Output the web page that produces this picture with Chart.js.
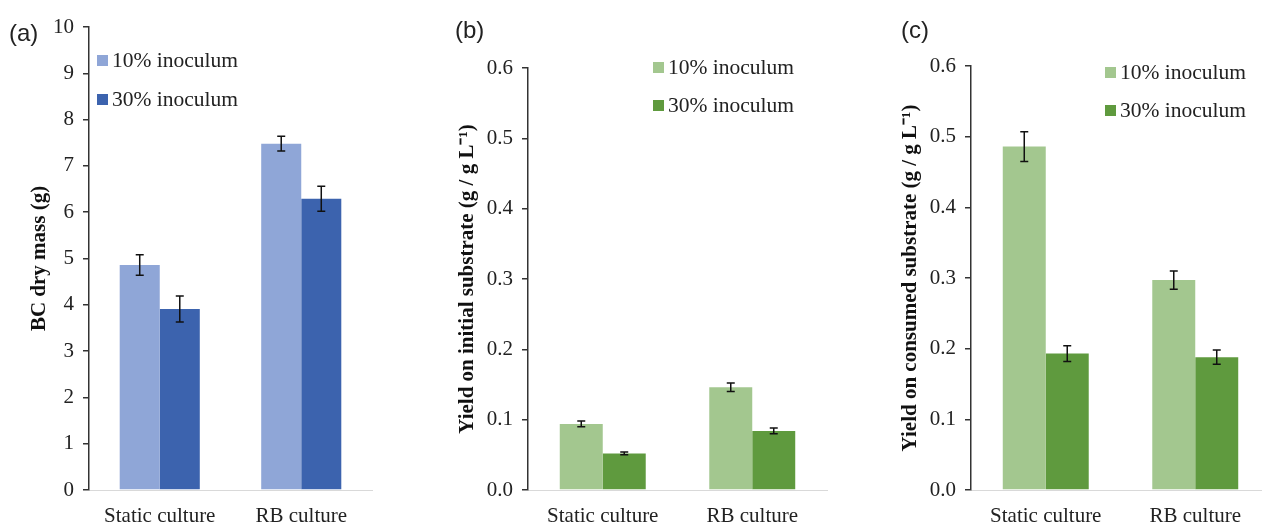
<!DOCTYPE html>
<html lang="en">
<head>
    <meta charset="UTF-8">
    <title>BC yield</title>
    <style>
        body { margin: 0; background: #fff; width: 1262px; height: 524px; overflow: hidden; position: relative; }
        canvas { position: absolute; top: 0; }
        .tag { position: absolute; font-family: "Liberation Sans", Arial, sans-serif; font-size: 24px; color: #222; }
    </style>
</head>
<body>
    <canvas id="chartA" width="420" height="524" style="left:0"></canvas>
    <canvas id="chartB" width="422" height="524" style="left:420px"></canvas>
    <canvas id="chartC" width="440" height="524" style="left:842px"></canvas>
    <div class="tag" style="left:9px;top:19px">(a)</div>
    <div class="tag" style="left:455px;top:16px">(b)</div>
    <div class="tag" style="left:901px;top:16px">(c)</div>

    <script src="https://cdn.jsdelivr.net/npm/chart.js"></script>
    <script>
        const categories = ['Static culture', 'RB culture'];
        const seriesLabels = ['10% inoculum', '30% inoculum'];

        // (a) BC dry mass (g)
        const mass10 = [4.86, 7.48];
        const mass10Err = [0.22, 0.16];
        const mass30 = [3.91, 6.29];
        const mass30Err = [0.28, 0.27];

        // (b) yield on initial substrate
        const yieldInit10 = [0.094, 0.146];
        const yieldInit10Err = [0.004, 0.006];
        const yieldInit30 = [0.052, 0.084];
        const yieldInit30Err = [0.002, 0.004];

        // (c) yield on consumed substrate
        const yieldCons10 = [0.486, 0.297];
        const yieldCons10Err = [0.021, 0.013];
        const yieldCons30 = [0.193, 0.188];
        const yieldCons30Err = [0.011, 0.010];

        const serif = '"Liberation Serif", "Times New Roman", serif';

        // error bars drawn from each dataset's err array
        const errorBars = {
            id: 'errorBars',
            afterDatasetsDraw(chart) {
                const ctx = chart.ctx;
                const y = chart.scales.y;
                ctx.save();
                ctx.strokeStyle = '#111';
                ctx.lineWidth = 1.5;
                chart.data.datasets.forEach((ds, i) => {
                    chart.getDatasetMeta(i).data.forEach((bar, j) => {
                        const v = ds.data[j], e = ds.err[j];
                        const top = y.getPixelForValue(v + e);
                        const bot = y.getPixelForValue(v - e);
                        ctx.beginPath();
                        ctx.moveTo(bar.x, top); ctx.lineTo(bar.x, bot);
                        ctx.moveTo(bar.x - 4, top); ctx.lineTo(bar.x + 4, top);
                        ctx.moveTo(bar.x - 4, bot); ctx.lineTo(bar.x + 4, bot);
                        ctx.stroke();
                    });
                });
                ctx.restore();
            }
        };

        // legend with small squares, placed inside the plot
        const boxLegend = {
            id: 'boxLegend',
            afterDraw(chart, args, opts) {
                const ctx = chart.ctx;
                ctx.save();
                ctx.font = '21.5px ' + serif;
                ctx.textBaseline = 'middle';
                chart.data.datasets.forEach((ds, i) => {
                    const cy = opts.y + i * opts.gap;
                    ctx.fillStyle = ds.backgroundColor;
                    ctx.fillRect(opts.x, cy - 5, 11, 11);
                    ctx.fillStyle = '#222';
                    ctx.fillText(ds.label, opts.x + 15, cy + 1);
                });
                ctx.restore();
            }
        };

        function makePanel(id, cfg) {
            return new Chart(document.getElementById(id), {
                type: 'bar',
                data: {
                    labels: categories,
                    datasets: [
                        { label: seriesLabels[0], data: cfg.s1, err: cfg.e1, backgroundColor: cfg.colors[0] },
                        { label: seriesLabels[1], data: cfg.s2, err: cfg.e2, backgroundColor: cfg.colors[1] }
                    ]
                },
                options: {
                    responsive: false,
                    animation: false,
                    categoryPercentage: cfg.catPct,
                    barPercentage: 1.0,
                    layout: { padding: { top: cfg.top, right: cfg.right, bottom: 0, left: 0 } },
                    plugins: {
                        legend: { display: false },
                        tooltip: { enabled: false },
                        boxLegend: cfg.legend
                    },
                    scales: {
                        x: {
                            grid: { display: false },
                            border: { color: '#d9d9d9', width: 1 },
                            ticks: { color: '#222', padding: 6, font: { family: serif, size: 21 } },
                            afterFit(scale) { scale.height = 34; }
                        },
                        y: {
                            min: 0, max: cfg.max,
                            grid: { drawOnChartArea: false, drawTicks: true, tickLength: 6, color: '#333', lineWidth: 1.5 },
                            border: { color: '#333', width: 1.5 },
                            ticks: {
                                stepSize: cfg.step, color: '#222', padding: 9,
                                font: { family: serif, size: 21 },
                                callback: v => v.toFixed(cfg.dec)
                            },
                            title: {
                                display: true, text: cfg.title, color: '#111',
                                font: { family: serif, size: 21, weight: 'bold' },
                                padding: { top: cfg.titlePad, bottom: 0 }
                            },
                            afterFit(scale) { scale.width = cfg.axisW; }
                        }
                    }
                },
                plugins: [errorBars, boxLegend]
            });
        }

        const blues = ['#8fa6d7', '#3c63ae'];
        const greens = ['#a3c78f', '#5f9a3e'];

        makePanel('chartA', {
            s1: mass10, e1: mass10Err, s2: mass30, e2: mass30Err, colors: blues,
            max: 10, step: 1, dec: 0, title: 'BC dry mass (g)',
            top: 27, right: 48, axisW: 89, titlePad: 27, catPct: 0.566,
            legend: { x: 97, y: 60, gap: 39 }
        });

        makePanel('chartB', {
            s1: yieldInit10, e1: yieldInit10Err, s2: yieldInit30, e2: yieldInit30Err, colors: greens,
            max: 0.6, step: 0.1, dec: 1, title: 'Yield on initial substrate (g / g L\u207B\u00B9)',
            top: 68, right: 15, axisW: 108, titlePad: 35, catPct: 0.575,
            legend: { x: 233, y: 67, gap: 38 }
        });

        makePanel('chartC', {
            s1: yieldCons10, e1: yieldCons10Err, s2: yieldCons30, e2: yieldCons30Err, colors: greens,
            max: 0.6, step: 0.1, dec: 1, title: 'Yield on consumed substrate (g / g L\u207B\u00B9)',
            top: 66, right: 12, axisW: 129, titlePad: 56, catPct: 0.575,
            legend: { x: 263, y: 72, gap: 38 }
        });
    </script>
</body>
</html>
